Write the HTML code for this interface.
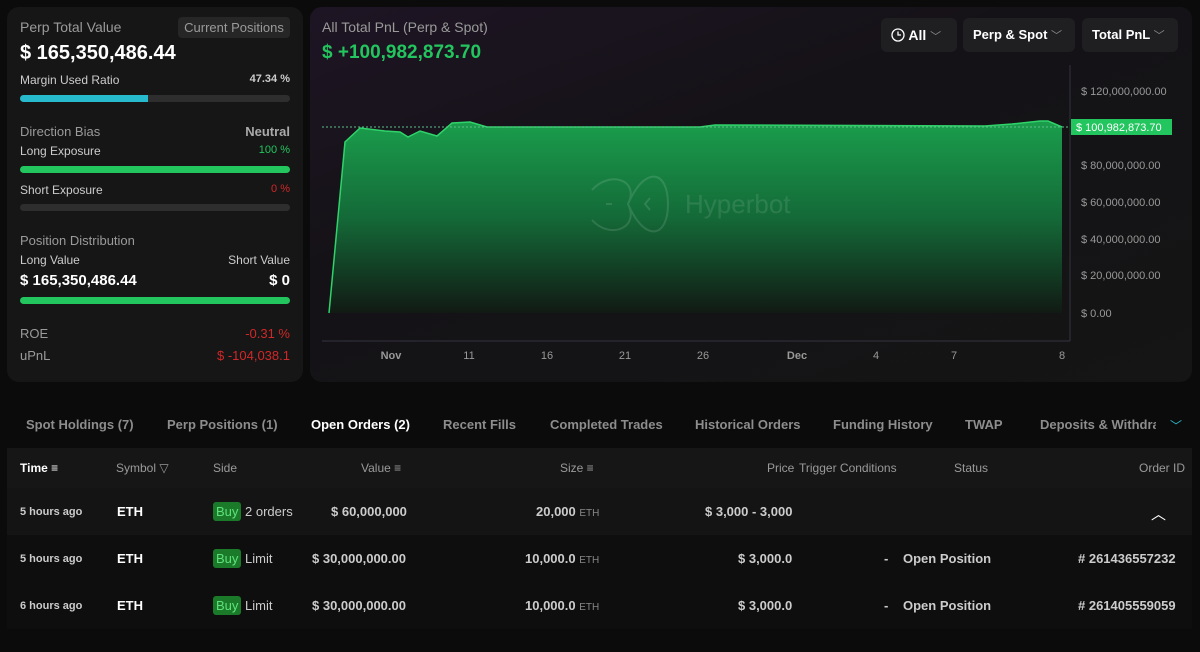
<!DOCTYPE html>
<html><head><meta charset="utf-8"><style>
*{margin:0;padding:0;box-sizing:border-box}
body{width:1200px;height:652px;background:#0b0b0b;font-family:"Liberation Sans",sans-serif;color:#fff;position:relative;overflow:hidden}
.a{position:absolute;white-space:nowrap}
.card{position:absolute;background:#161616;border-radius:12px}
.g{color:#9a9a9a}
.bar{position:absolute;height:7px;border-radius:4px;background:#2e2e2e}
.btn{position:absolute;top:18px;height:34px;background:#1f1f22;border-radius:6px;font-weight:bold;font-size:14px;line-height:34px;padding-left:10px}
.th{font-size:12px;color:#9a9a9a;top:461px}
.tab{top:417px;font-size:13px;color:#8d8d8d;font-weight:bold}
.buy{display:inline-block;background:#1a7a2a;color:#5fe27a;padding:2px 3px;border-radius:3px}
.r{font-size:13px;font-weight:bold}
.rt{right:910px;text-align:right}
</style></head><body>
<div class="card" style="left:7px;top:7px;width:296px;height:375px"></div>
<div class="card" style="left:310px;top:7px;width:882px;height:375px;background:linear-gradient(160deg,#1e1524 0%,#141216 40%,#151515 100%)"></div>

<div class="a g" style="left:20px;top:19px;font-size:14px">Perp Total Value</div>
<div class="a" style="left:178px;top:17px;width:112px;height:21px;background:#262626;border-radius:4px;color:#9a9a9a;font-size:13px;text-align:center;line-height:21px">Current Positions</div>
<div class="a" style="left:20px;top:42px;font-size:20px;font-weight:bold">$ 165,350,486.44</div>
<div class="a" style="left:20px;top:73px;font-size:12px;color:#ccc">Margin Used Ratio</div>
<div class="a rt" style="top:73px;font-size:11px;color:#ccc;font-weight:bold">47.34 %</div>
<div class="bar" style="left:20px;top:95px;width:270px"></div><div class="bar" style="left:20px;top:95px;width:128px;background:#27b9cc;border-radius:4px 0 0 4px"></div>
<div class="a g" style="left:20px;top:124px;font-size:13px">Direction Bias</div>
<div class="a rt" style="top:124px;font-size:13px;color:#aaa;font-weight:bold">Neutral</div>
<div class="a" style="left:20px;top:144px;font-size:12px;color:#ccc">Long Exposure</div>
<div class="a rt" style="top:144px;font-size:11px;color:#22c55e">100 %</div>
<div class="bar" style="left:20px;top:166px;width:270px;background:#22c55e"></div>
<div class="a" style="left:20px;top:183px;font-size:12px;color:#ccc">Short Exposure</div>
<div class="a rt" style="top:183px;font-size:11px;color:#d02828">0 %</div>
<div class="bar" style="left:20px;top:204px;width:270px"></div>
<div class="a g" style="left:20px;top:233px;font-size:13px">Position Distribution</div>
<div class="a" style="left:20px;top:253px;font-size:12px;color:#ccc">Long Value</div>
<div class="a rt" style="top:253px;font-size:12px;color:#ccc">Short Value</div>
<div class="a" style="left:20px;top:272px;font-size:15px;font-weight:bold">$ 165,350,486.44</div>
<div class="a rt" style="top:272px;font-size:15px;font-weight:bold">$ 0</div>
<div class="bar" style="left:20px;top:297px;width:270px;background:#22c55e"></div>
<div class="a g" style="left:20px;top:326px;font-size:13px">ROE</div>
<div class="a rt" style="top:326px;font-size:13px;color:#d02828">-0.31 %</div>
<div class="a g" style="left:20px;top:348px;font-size:13px">uPnL</div>
<div class="a rt" style="top:348px;font-size:13px;color:#d02828">$ -104,038.1</div>

<div class="a g" style="left:322px;top:19px;font-size:14px">All Total PnL (Perp &amp; Spot)</div>
<div class="a" style="left:322px;top:42px;font-size:19px;font-weight:bold;color:#22c55e">$ +100,982,873.70</div>
<div class="btn" style="left:881px;width:76px"><svg width="14" height="14" style="vertical-align:-2px"><circle cx="7" cy="7" r="6" fill="none" stroke="#fff" stroke-width="1.3"/><path d="M7,3.5 V7 H10" fill="none" stroke="#fff" stroke-width="1.3"/></svg> All <span style="color:#888;font-weight:normal;font-size:11px">﹀</span></div>
<div class="btn" style="left:963px;width:112px;font-size:13px">Perp &amp; Spot <span style="color:#888;font-weight:normal;font-size:11px">﹀</span></div>
<div class="btn" style="left:1082px;width:96px;font-size:13px">Total PnL <span style="color:#888;font-weight:normal;font-size:11px">﹀</span></div>

<svg class="a" style="left:0;top:0" width="1200" height="400">
<defs><linearGradient id="gf" x1="0" y1="0" x2="0" y2="1"><stop offset="0" stop-color="#1a9e4c"/><stop offset="0.5" stop-color="#146a38"/><stop offset="1" stop-color="#111a14"/></linearGradient></defs>
<path d="M329,313 L345,142 L360,128 L385,131 L400,132 L408,137 L420,131 L437,136 L452,123 L470,122 L487,127 L700,127 L715,125 L985,126 L1012,124 L1040,121 L1048,121 L1062,127 L1062,313 Z" fill="url(#gf)"/>
<path d="M329,313 L345,142 L360,128 L385,131 L400,132 L408,137 L420,131 L437,136 L452,123 L470,122 L487,127 L700,127 L715,125 L985,126 L1012,124 L1040,121 L1048,121 L1062,127" fill="none" stroke="#2fd36a" stroke-width="1.5"/>
<line x1="322" y1="127" x2="1070" y2="127" stroke="#5fbf8a" stroke-dasharray="2,2" stroke-width="1"/>
<line x1="322" y1="341" x2="1070" y2="341" stroke="#333340"/>
<line x1="1070" y1="65" x2="1070" y2="341" stroke="#333340"/>
<g font-size="11" fill="#999" font-family="Liberation Sans"><text x="1081" y="95">$ 120,000,000.00</text><text x="1081" y="169">$ 80,000,000.00</text><text x="1081" y="206">$ 60,000,000.00</text><text x="1081" y="243">$ 40,000,000.00</text><text x="1081" y="279">$ 20,000,000.00</text><text x="1081" y="317">$ 0.00</text></g>
<rect x="1071" y="119" width="101" height="16" fill="#22c55e"/><text x="1076" y="131" font-size="11" fill="#fff" font-family="Liberation Sans">$ 100,982,873.70</text>
<g font-size="11" fill="#999" font-family="Liberation Sans" text-anchor="middle"><text x="391" y="359" font-weight="bold">Nov</text><text x="469" y="359">11</text><text x="547" y="359">16</text><text x="625" y="359">21</text><text x="703" y="359">26</text><text x="797" y="359" font-weight="bold">Dec</text><text x="876" y="359">4</text><text x="954" y="359">7</text><text x="1062" y="359">8</text></g>
<g opacity="0.12" stroke="#fff" fill="none" stroke-width="2"><path d="M592,190 C610,170 640,180 628,204 C640,228 610,240 592,220 M668,204 C668,170 645,165 628,204 C645,243 668,238 668,204 M606,204 h6 M650,198 l-5,6 l5,6"/></g>
<text x="685" y="213" font-size="26" fill="#fff" opacity="0.1" font-family="Liberation Sans">Hyperbot</text>
</svg>

<div class="a tab" style="left:26px">Spot Holdings (7)</div>
<div class="a tab" style="left:167px">Perp Positions (1)</div>
<div class="a tab" style="left:311px;color:#fff">Open Orders (2)</div>
<div class="a tab" style="left:443px">Recent Fills</div>
<div class="a tab" style="left:550px">Completed Trades</div>
<div class="a tab" style="left:695px">Historical Orders</div>
<div class="a tab" style="left:833px">Funding History</div>
<div class="a tab" style="left:965px">TWAP</div>
<div class="a tab" style="left:1040px;width:116px;overflow:hidden">Deposits &amp; Withdraw</div>
<div class="a" style="left:1170px;top:417px;color:#27b9cc;font-size:12px">﹀</div>

<div class="a" style="left:7px;top:448px;width:1185px;height:40px;background:#161616"></div>
<div class="a" style="left:7px;top:488px;width:1185px;height:47px;background:#141414"></div>
<div class="a" style="left:7px;top:535px;width:1185px;height:94px;background:#0e0e0e"></div>
<div class="a th" style="left:20px;color:#fff;font-weight:bold">Time ≡</div>
<div class="a th" style="left:116px">Symbol ▽</div>
<div class="a th" style="left:213px">Side</div>
<div class="a th" style="left:361px">Value ≡</div>
<div class="a th" style="left:560px">Size ≡</div>
<div class="a th" style="left:767px">Price</div>
<div class="a th" style="left:799px">Trigger Conditions</div>
<div class="a th" style="left:954px">Status</div>
<div class="a th" style="left:1139px">Order ID</div>

<div class="a r" style="left:20px;top:506px;font-size:11px;color:#ccc">5 hours ago</div>
<div class="a r" style="left:117px;top:504px">ETH</div>
<div class="a" style="left:213px;top:502px;font-size:13px"><span class="buy">Buy</span> <span style="color:#ccc">2 orders</span></div>
<div class="a r" style="left:331px;top:504px;color:#ccc">$ 60,000,000</div>
<div class="a r" style="left:536px;top:504px;color:#ccc">20,000 <span style="font-size:10px;color:#888;font-weight:normal">ETH</span></div>
<div class="a r" style="left:705px;top:504px;color:#ccc">$ 3,000 - 3,000</div>
<div class="a" style="left:1151px;top:503px;font-size:15px">︿</div>

<div class="a r" style="left:20px;top:553px;font-size:11px;color:#ccc">5 hours ago</div>
<div class="a r" style="left:117px;top:551px">ETH</div>
<div class="a" style="left:213px;top:549px;font-size:13px"><span class="buy">Buy</span> <span style="color:#ccc">Limit</span></div>
<div class="a r" style="left:312px;top:551px;color:#ccc">$ 30,000,000.00</div>
<div class="a r" style="left:525px;top:551px;color:#ccc">10,000.0 <span style="font-size:10px;color:#888;font-weight:normal">ETH</span></div>
<div class="a r" style="left:738px;top:551px;color:#ccc">$ 3,000.0</div>
<div class="a r" style="left:884px;top:551px;color:#ccc">-</div>
<div class="a r" style="left:903px;top:551px;color:#ccc">Open Position</div>
<div class="a r" style="left:1078px;top:551px;color:#ccc">#&nbsp;261436557232</div>

<div class="a r" style="left:20px;top:600px;font-size:11px;color:#ccc">6 hours ago</div>
<div class="a r" style="left:117px;top:598px">ETH</div>
<div class="a" style="left:213px;top:596px;font-size:13px"><span class="buy">Buy</span> <span style="color:#ccc">Limit</span></div>
<div class="a r" style="left:312px;top:598px;color:#ccc">$ 30,000,000.00</div>
<div class="a r" style="left:525px;top:598px;color:#ccc">10,000.0 <span style="font-size:10px;color:#888;font-weight:normal">ETH</span></div>
<div class="a r" style="left:738px;top:598px;color:#ccc">$ 3,000.0</div>
<div class="a r" style="left:884px;top:598px;color:#ccc">-</div>
<div class="a r" style="left:903px;top:598px;color:#ccc">Open Position</div>
<div class="a r" style="left:1078px;top:598px;color:#ccc">#&nbsp;261405559059</div>
</body></html>
